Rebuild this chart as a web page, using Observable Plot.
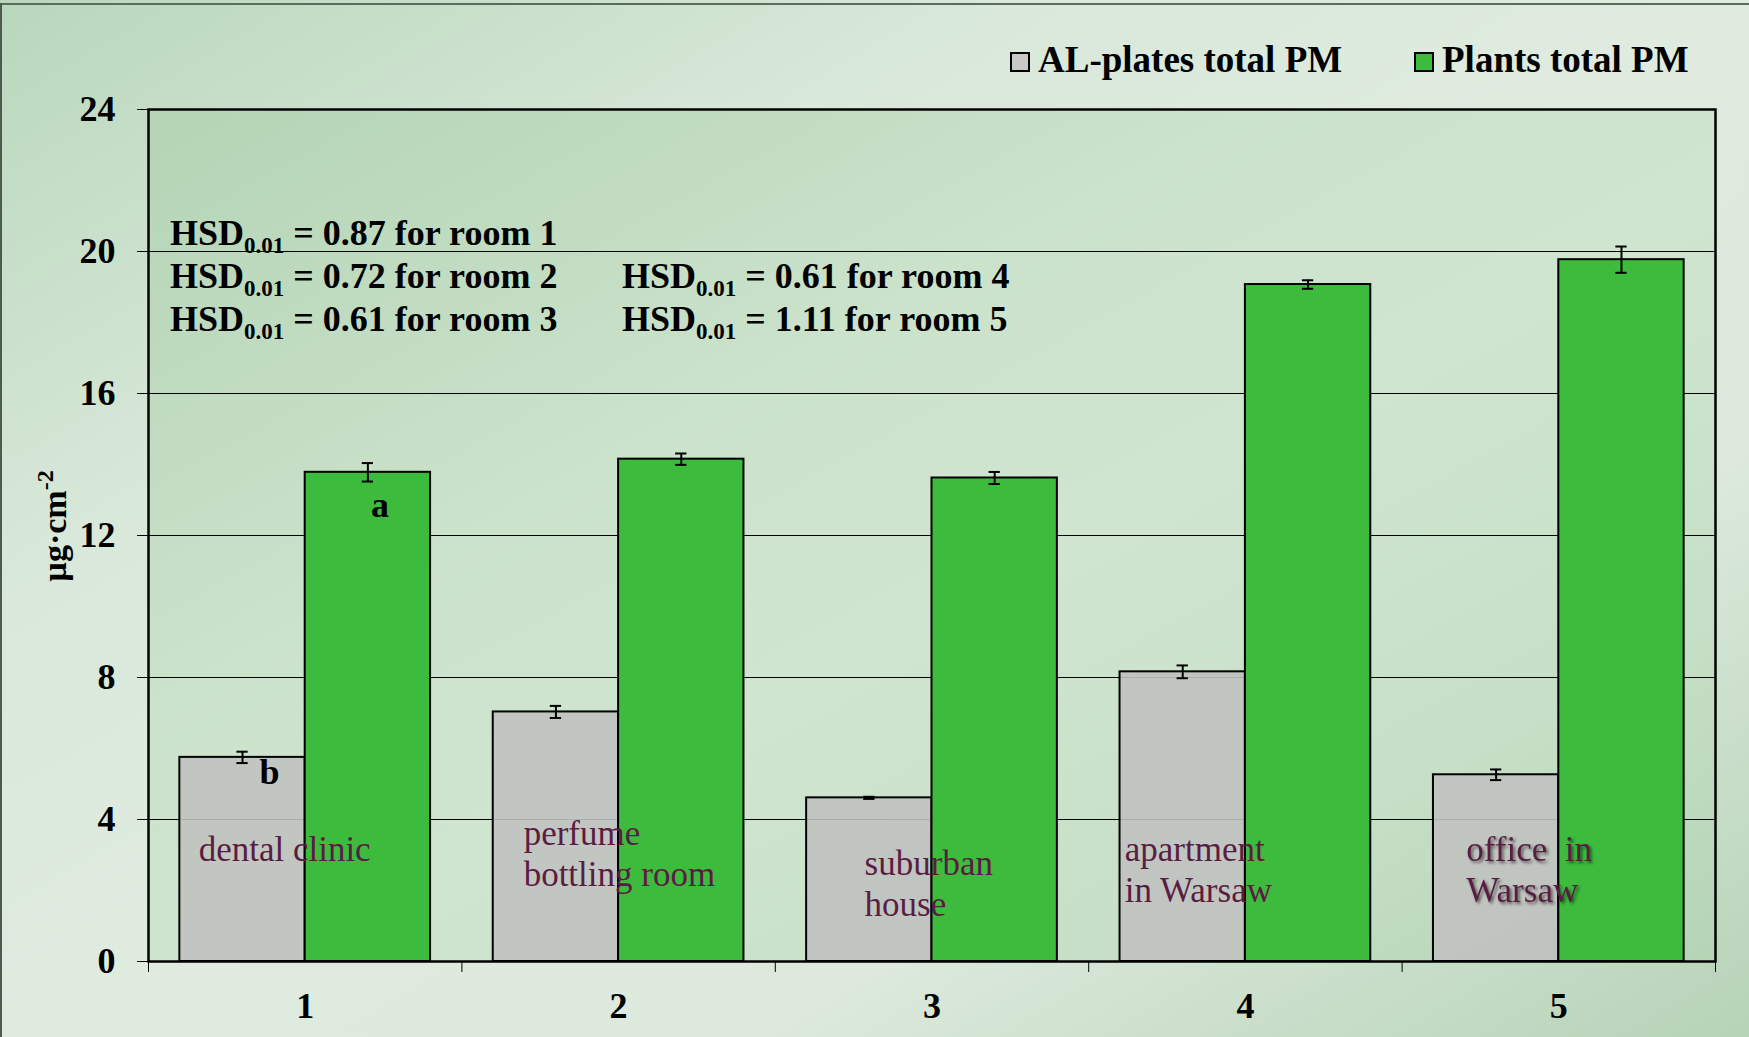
<!DOCTYPE html>
<html>
<head>
<meta charset="utf-8">
<script src="https://cdn.jsdelivr.net/npm/d3@7"></script>
<script src="https://cdn.jsdelivr.net/npm/@observablehq/plot@0.6"></script>
<style>
  html, body { margin: 0; padding: 0; overflow: hidden; }
  #wrap {
    position: relative; width: 1749px; height: 1037px; overflow: hidden;
    background: linear-gradient(to bottom right, #b9d7bc 0%, #d8e8d9 28%, #e0ebe0 50%, #dce9dc 72%, #b6d3b7 100%);
    font-family: "Liberation Serif", "Times New Roman", serif;
  }
  #wrap svg { position: absolute; left: 0; top: 0; }
  .edge-top { position: absolute; left: 0; top: 3px; width: 1749px; height: 2px; background: #5d6b5f; }
  .edge-left { position: absolute; left: 0; top: 3px; width: 2px; height: 1034px; background: #4d5a4f; }
  .legend { position: absolute; top: 0; left: 0; height: 100px; font-weight: bold; font-size: 37px; color: #000; }
  .legend .item { position: absolute; top: 40px; white-space: nowrap; line-height: 40px; }
  .legend .sw { display: inline-block; width: 16px; height: 16px; border: 2px solid #000; vertical-align: 0px; margin-right: 8px; }
  .shadowed text { filter: drop-shadow(2px 2px 1.5px rgba(0,0,0,0.55)); }
</style>
</head>
<body>
<div id="wrap"></div>
<script>
// ---------------- data ----------------
const rooms = [1, 2, 3, 4, 5];
const roomNames = ["dental clinic", "perfume\nbottling room", "suburban\nhouse", "apartment\nin Warsaw", "office  in\nWarsaw"];
const seriesNames = ["AL-plates total PM", "Plants total PM"];
const alPlates = [5.75, 7.03, 4.61, 8.16, 5.26];
const alPlatesErr = [0.16, 0.17, 0.03, 0.18, 0.15];
const plants = [13.78, 14.15, 13.62, 19.07, 19.77];
const plantsErr = [0.26, 0.16, 0.17, 0.12, 0.37];
const yTicks = [0, 4, 8, 12, 16, 20, 24];
const hsdValues = ["0.87", "0.72", "0.61", "0.61", "1.11"];
const yLabel = "µg·cm";
const yLabelSup = "-2";
const letterMarks = [{room: 1, series: 0, text: "b"}, {room: 1, series: 1, text: "a"}];

// ---------------- layout / style ----------------
const GRAY = "#c0c2c0";
const GREEN = "#3dbb3d";
const GROUP = 0.4;      // half of a room's bar group, in room units
const CAP = 0.018;      // half width of error-bar caps, in room units
const FONT = "Liberation Serif";
// room label placement: offset from group's left edge (room units) and top-of-text value
const labelLayout = [
  {dx: 0.06, y: 3.66}, {dx: 0.097, y: 4.1}, {dx: 0.185, y: 3.26}, {dx: 0.015, y: 3.66}, {dx: 0.105, y: 3.66}
];

const table = rooms.flatMap((r, i) => [
  {room: r, series: 0, value: alPlates[i], err: alPlatesErr[i]},
  {room: r, series: 1, value: plants[i], err: plantsErr[i]}
]);
const center = d => d.room + (d.series - 0.5) * GROUP;
const labels = rooms.map((r, i) => ({room: r, name: roomNames[i], ...labelLayout[i]}));
const boundaries = [0.5, ...rooms.map(r => r + 0.5)];
const valueOf = (room, series) => series === 0 ? alPlates[rooms.indexOf(room)] : plants[rooms.indexOf(room)];

const chart = Plot.plot({
  width: 1749,
  height: 1037,
  marginTop: 109,
  marginRight: 34,
  marginBottom: 76,
  marginLeft: 148,
  x: {domain: [0.5, 5.5]},
  y: {domain: [0, 24]},
  style: {background: "transparent", fontFamily: FONT, color: "black", overflow: "visible"},
  marks: [
    Plot.frame({fill: "url(#plotBg)", stroke: "none"}),
    Plot.ruleY(yTicks.slice(1, -1), {stroke: "black", strokeWidth: 1}),
    Plot.rect(table.filter(d => d.series === 0), {
      x1: d => d.room - GROUP, x2: d => d.room, y1: 0, y2: "value",
      fill: GRAY, fillOpacity: 0.9, stroke: "black", strokeWidth: 2
    }),
    Plot.rect(table.filter(d => d.series === 1), {
      x1: d => d.room, x2: d => d.room + GROUP, y1: 0, y2: "value",
      fill: GREEN, stroke: "black", strokeWidth: 2
    }),
    Plot.ruleX(table, {x: center, y1: d => d.value - d.err, y2: d => d.value + d.err, stroke: "black", strokeWidth: 2}),
    Plot.ruleY(table, {y: d => d.value + d.err, x1: d => center(d) - CAP, x2: d => center(d) + CAP, stroke: "black", strokeWidth: 2}),
    Plot.ruleY(table, {y: d => d.value - d.err, x1: d => center(d) - CAP, x2: d => center(d) + CAP, stroke: "black", strokeWidth: 2}),
    Plot.text(letterMarks.filter(d => d.series === 0), {
      x: center, y: d => valueOf(d.room, d.series), text: "text",
      dx: 27, dy: 15, fontSize: 36, fontWeight: "bold", fill: "black", fontFamily: FONT
    }),
    Plot.text(letterMarks.filter(d => d.series === 1), {
      x: center, y: d => valueOf(d.room, d.series), text: "text",
      dx: 12, dy: 33, fontSize: 36, fontWeight: "bold", fill: "black", fontFamily: FONT
    }),
    Plot.text(labels.filter(d => d.room !== 5), {
      x: d => d.room - GROUP + d.dx, y: "y", text: "name",
      textAnchor: "start", lineAnchor: "top", lineHeight: 1.17,
      fontSize: 35, fill: "#5a1d42", fontFamily: FONT
    }),
    Plot.text(labels.filter(d => d.room === 5), {
      x: d => d.room - GROUP + d.dx, y: "y", text: "name",
      textAnchor: "start", lineAnchor: "top", lineHeight: 1.17,
      fontSize: 35, fill: "#5a1d42", fontFamily: FONT, className: "shadowed"
    }),
    Plot.axisY(yTicks, {tickSize: 11, tickPadding: 22, fontSize: 36, fontWeight: "bold", label: null, stroke: "black"}),
    Plot.axisX(boundaries, {tickSize: 11, tickFormat: () => "", label: null, stroke: "black"}),
    Plot.axisX(rooms, {tickSize: 0, tickPadding: 31, fontSize: 36, fontWeight: "bold", label: null, tickFormat: d => String(d)}),
    Plot.frame({stroke: "black", strokeWidth: 2.5})
  ]
});

// plot-area gradient
const svg = d3.select(chart);
const grad = svg.insert("defs", ":first-child").append("linearGradient")
  .attr("id", "plotBg").attr("x1", 0).attr("y1", 0).attr("x2", 1).attr("y2", 1);
[[0, "#b4d4b5"], [0.35, "#cbe2cb"], [0.55, "#d0e5d0"], [0.8, "#c6dfc6"], [1, "#b5d4b6"]].forEach(([o, c]) =>
  grad.append("stop").attr("offset", o).attr("stop-color", c));

// HSD annotations
const hsdLayout = [
  {x: 170, y: 245}, {x: 170, y: 288}, {x: 170, y: 331}, {x: 622, y: 288}, {x: 622, y: 331}
];
hsdValues.forEach((v, i) => {
  const t = svg.append("text")
    .attr("x", hsdLayout[i].x).attr("y", hsdLayout[i].y)
    .attr("text-anchor", "start")
    .attr("font-family", FONT).attr("font-weight", "bold").attr("font-size", 36).attr("fill", "black");
  t.append("tspan").text("HSD");
  t.append("tspan").attr("font-size", 23).attr("dy", 8).text("0.01");
  t.append("tspan").attr("dy", -8).text(` = ${v} for room ${rooms[i]}`);
});

// y-axis label
const yl = svg.append("text")
  .attr("transform", "translate(66,526) rotate(-90)")
  .attr("text-anchor", "middle")
  .attr("font-family", FONT).attr("font-weight", "bold").attr("font-size", 34).attr("fill", "black");
yl.append("tspan").text(yLabel);
yl.append("tspan").attr("font-size", 24).attr("dy", -13).text(yLabelSup);

const wrap = document.getElementById("wrap");
wrap.appendChild(chart);

// legend
const legend = document.createElement("div");
legend.className = "legend";
const legendColors = ["#c8c8c8", GREEN];
const legendLeft = [1010, 1414];
seriesNames.forEach((name, i) => {
  const item = document.createElement("div");
  item.className = "item";
  item.style.left = legendLeft[i] + "px";
  const sw = document.createElement("span");
  sw.className = "sw";
  sw.style.background = legendColors[i];
  item.appendChild(sw);
  item.appendChild(document.createTextNode(name));
  legend.appendChild(item);
});
wrap.appendChild(legend);

["edge-top", "edge-left"].forEach(c => { const e = document.createElement("div"); e.className = c; wrap.appendChild(e); });
</script>
</body>
</html>
